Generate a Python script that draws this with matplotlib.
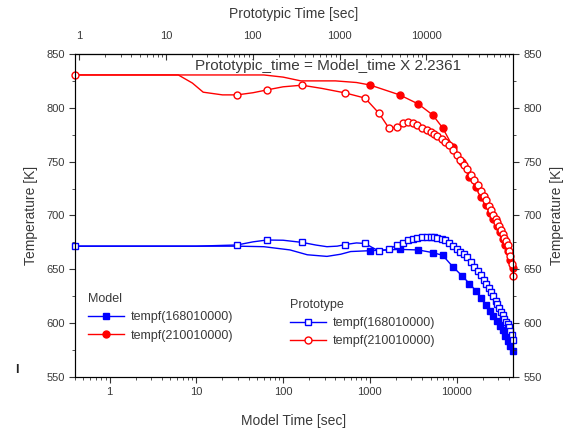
import matplotlib.pyplot as plt
from matplotlib.lines import Line2D
from matplotlib.ticker import FixedLocator, LogLocator, NullFormatter, MultipleLocator

plt.rcParams['font.family'] = ['Liberation Sans', 'DejaVu Sans']

# model run (filled markers), model time [s]
model_red_t = [0.4, 60, 100, 160, 400, 700,
               1000, 2200, 3600, 5300, 6900, 9000, 11500, 14000, 16500, 19000,
               21500, 24000, 26500, 29000, 31500, 34000, 36500, 39000, 41500, 44000]
model_red = [830.5, 830.5, 828.5, 825, 825, 823.5,
             821.2, 812, 803.6, 793.3, 781.3, 764, 749.5, 735.5, 726.5, 717.5,
             709.5, 702.7, 696.4, 690, 684.3, 678.3, 672.5, 667, 659, 651]
model_red_nomark = [0.4, 60, 100, 160, 400, 700]

model_blue_t = [0.4, 30, 60, 120, 190, 320, 460, 600,
                1000, 2200, 3600, 5300, 6900, 9000, 11500, 14000, 16500, 19000,
                21500, 24000, 26500, 29000, 31500, 34000, 36500, 39000, 41500, 44000]
model_blue = [671.5, 671.5, 671, 668, 663.5, 662, 664, 666.5,
              667.3, 668.5, 668, 665.5, 663, 652.5, 644, 636.8, 630.3, 623,
              617.2, 611.6, 606.4, 601.8, 597.4, 593.4, 588.5, 583.5, 579, 574]
model_blue_nomark = [0.4, 30, 60, 120, 190, 320, 460, 600]

# prototype run (open markers), plotted against model time
proto_dense_t = [2400, 2750, 3100, 3500, 4000, 4500, 5000, 5500, 6000, 6700,
                 7400, 8200, 9000, 10000, 11000, 12000, 13000, 14500, 16000, 17500,
                 19000, 20500, 22000, 23500, 25000, 26500, 28000, 29500, 31000, 32500,
                 34000, 35500, 37000, 38500, 40000, 41500, 43000, 44500]

proto_red_t = [0.4, 6.2, 9, 12, 20, 29.5, 45, 65, 100, 165, 280, 520, 880, 1270, 1660, 2050] + proto_dense_t
proto_red = [830.5, 830.5, 823, 814.5, 812, 812, 814, 816.6, 819.5, 821, 818, 813.8, 809, 795, 781, 782,
             785.9, 786.5, 786, 784, 781.5, 779.5, 777.5, 775.5, 773.5, 771,
             768.5, 765, 761, 756.5, 751.5, 747, 743.5, 737.5, 732.5, 728,
             723, 718.5, 714, 709, 705, 700.5, 697, 693.5, 690, 686.5,
             683, 679.5, 676.5, 673, 667, 662, 655, 644]
proto_red_nomark = [6.2, 9, 12, 20, 45, 100, 280]

proto_blue_t = [0.4, 10, 29.5, 45, 65, 100, 165, 240, 320, 420, 520, 700, 880, 1050, 1270, 1660, 2050] + proto_dense_t
proto_blue = [671.5, 671.5, 672.6, 675.5, 677.2, 677, 675, 672.5, 671, 671.5, 673, 674.5, 674, 670.5, 667, 668.6, 672.6,
              674.8, 677, 678.2, 679.2, 680, 680.3, 680.3, 680, 679.5, 678.5,
              677, 674.5, 672, 669, 666.5, 664, 661, 656.5, 652.3, 648.5,
              644.5, 640, 636.3, 632.8, 629.3, 625, 621, 617.5, 614, 610.5,
              607.2, 604.2, 601.5, 598.8, 596, 592.5, 589.3, 584.5]
proto_blue_nomark = [10, 45, 100, 240, 320, 420, 700, 1050]

scale = 2.2361
decades = [1, 10, 100, 1000, 10000]
txt = '#3a3a3a'


def marks(times, skip):
    return [i for i, t in enumerate(times) if t not in skip]


fig = plt.figure(figsize=(5.72, 4.30), dpi=100)
ax = fig.add_axes([0.1311, 0.1233, 0.7657, 0.7512])

ms = 5
ax.plot(model_blue_t, model_blue, color='blue', lw=1, marker='s', ms=ms,
        markevery=marks(model_blue_t, model_blue_nomark), clip_on=False)
ax.plot(model_red_t, model_red, color='red', lw=1, marker='o', ms=ms,
        markevery=marks(model_red_t, model_red_nomark), clip_on=False)
ax.plot(proto_blue_t, proto_blue, color='blue', lw=1, marker='s', ms=ms, mfc='white',
        mew=1, markevery=marks(proto_blue_t, proto_blue_nomark), clip_on=False)
ax.plot(proto_red_t, proto_red, color='red', lw=1, marker='o', ms=ms, mfc='white',
        mew=1, markevery=marks(proto_red_t, proto_red_nomark), clip_on=False)

ax.set_xscale('log')
ax.set_xlim(0.4, 44500)
ax.set_ylim(550, 850)
ax.xaxis.set_major_locator(FixedLocator(decades))
ax.set_xticklabels([str(d) for d in decades])
ax.xaxis.set_minor_locator(LogLocator(base=10, subs=range(2, 10)))
ax.xaxis.set_minor_formatter(NullFormatter())
ax.yaxis.set_major_locator(MultipleLocator(50))
ax.yaxis.set_minor_locator(MultipleLocator(25))
ax.tick_params(which='both', direction='out', labelsize=8, labelcolor=txt, color='#333333')
ax.tick_params(which='major', length=4)
ax.tick_params(which='minor', length=2.5)
for s in ax.spines.values():
    s.set_color('#333333')
ax.set_xlabel('Model Time [sec]', fontsize=10, color=txt, labelpad=12)
ax.set_ylabel('Temperature [K]', fontsize=10, color=txt, labelpad=6)

# right axis
axr = ax.twinx()
axr.set_ylim(550, 850)
axr.yaxis.set_major_locator(MultipleLocator(50))
axr.yaxis.set_minor_locator(MultipleLocator(25))
axr.tick_params(which='both', direction='out', labelsize=8, labelcolor=txt, color='#333333')
axr.tick_params(which='major', length=4)
axr.tick_params(which='minor', length=2.5)
axr.set_ylabel('Temperature [K]', fontsize=10, color=txt, rotation=90, labelpad=6)

# top axis: prototypic time
top = ax.secondary_xaxis('top', functions=(lambda m: m * scale, lambda p: p / scale))
top.xaxis.set_major_locator(FixedLocator(decades))
top.set_xticklabels([str(d) for d in decades])
top.xaxis.set_minor_locator(LogLocator(base=10, subs=range(2, 10)))
top.xaxis.set_minor_formatter(NullFormatter())
top.tick_params(which='both', direction='in', labelsize=8, labelcolor=txt, color='#333333', pad=9)
top.tick_params(which='major', length=4)
top.tick_params(which='minor', length=2.5)
top.set_xlabel('Prototypic Time [sec]', fontsize=10, color=txt, labelpad=10)

ax.text(0.578, 0.962, 'Prototypic_time = Model_time X 2.2361', transform=ax.transAxes,
        ha='center', va='center', fontsize=11, color=txt)

h_model = [Line2D([], [], color='blue', lw=1, marker='s', ms=ms),
           Line2D([], [], color='red', lw=1, marker='o', ms=ms)]
h_proto = [Line2D([], [], color='blue', lw=1, marker='s', ms=ms, mfc='white'),
           Line2D([], [], color='red', lw=1, marker='o', ms=ms, mfc='white')]
names = ['tempf(168010000)', 'tempf(210010000)']

leg1 = ax.legend(h_model, names, title='Model', loc='upper left', bbox_to_anchor=(0.018, 0.275),
                 frameon=False, fontsize=9, title_fontsize=9, alignment='left',
                 handlelength=2.9, handletextpad=0.5, labelspacing=0.5, borderaxespad=0)
ax.add_artist(leg1)
leg2 = ax.legend(h_proto, names, title='Prototype', loc='upper left', bbox_to_anchor=(0.48, 0.257),
                 frameon=False, fontsize=9, title_fontsize=9, alignment='left',
                 handlelength=2.9, handletextpad=0.5, labelspacing=0.5, borderaxespad=0)
for lg in (leg1, leg2):
    for t in lg.get_texts():
        t.set_color(txt)
    lg.get_title().set_color(txt)

fig.text(0.026, 0.133, 'I', fontsize=9, fontweight='bold', color='#222222')

fig.savefig('out.png', dpi=100)
